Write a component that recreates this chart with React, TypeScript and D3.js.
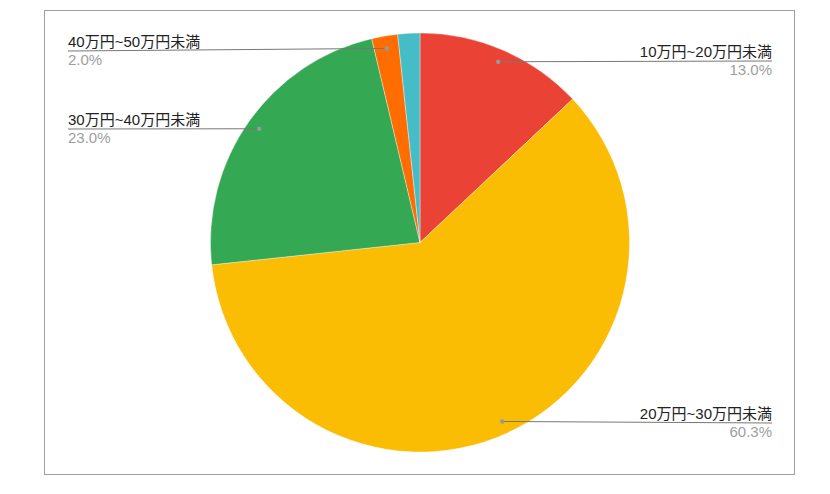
import * as d3 from "d3";

// slices, clockwise from 12 o'clock
const categories = ["10万円~20万円未満", "20万円~30万円未満", "30万円~40万円未満", "40万円~50万円未満", "50万円以上"];
const shares = [13.0, 60.3, 23.0, 2.0, 1.7];
const sliceColors = ["#EA4335", "#FBBC04", "#34A853", "#FF6D01", "#46BDC6"];
const showLabel = [true, true, true, true, false];

// label layout: which side and the y of the leader line
const labelSide = ["right", "right", "left", "left", "right"];
const labelLineY = [61, 423, 129, 51, 0];

const W = 830;
const H = 494;
const cx = 420;
const cy = 242.5;
const R = 209.5;
const leftX = 68;
const rightX = 772;

export default function App() {
    const pie = d3.pie<number>().sort(null).value((d) => d);
    const arcs = pie(shares);
    const arc = d3.arc<d3.PieArcDatum<number>>().innerRadius(0).outerRadius(R);
    const dotArc = d3.arc<d3.PieArcDatum<number>>().innerRadius(R * 0.94).outerRadius(R * 0.94);
    const fmt = d3.format(".1f");

    return (
        <div style={{ position: "absolute", left: 0, top: 0 }}>
            <svg width={W} height={H} style={{ display: "block", fontFamily: "Arial, 'Liberation Sans', 'Noto Sans CJK JP', sans-serif" }}>
                <rect x={0} y={0} width={W} height={H} fill="#fff" />
                <rect x={44.5} y={10.5} width={750} height={464} fill="none" stroke="#9e9e9e" strokeWidth={1} />
                <g transform={`translate(${cx},${cy})`}>
                    {arcs.map((a, i) => (
                        <path key={i} d={arc(a) as string} fill={sliceColors[i]} stroke="#fff" strokeWidth={0.6} strokeOpacity={0.6} />
                    ))}
                </g>
                {arcs.map((a, i) => {
                    if (!showLabel[i]) return null;
                    const [dx, dy] = dotArc.centroid(a);
                    const px = cx + dx;
                    const py = cy + dy;
                    const right = labelSide[i] === "right";
                    const ly = labelLineY[i];
                    const endX = right ? rightX : leftX;
                    return (
                        <g key={i}>
                            <line x1={px} y1={py} x2={endX} y2={ly} stroke="#777" strokeWidth={1} />
                            <circle cx={px} cy={py} r={2.2} fill="#999" />
                            <text x={endX} y={ly - 4.5} fontSize={15} fill="#222" textAnchor={right ? "end" : "start"}>
                                {categories[i]}
                            </text>
                            <text x={endX} y={ly + 14} fontSize={15} fill="#9e9e9e" textAnchor={right ? "end" : "start"}>
                                {fmt(shares[i])}%
                            </text>
                        </g>
                    );
                })}
            </svg>
        </div>
    );
}
